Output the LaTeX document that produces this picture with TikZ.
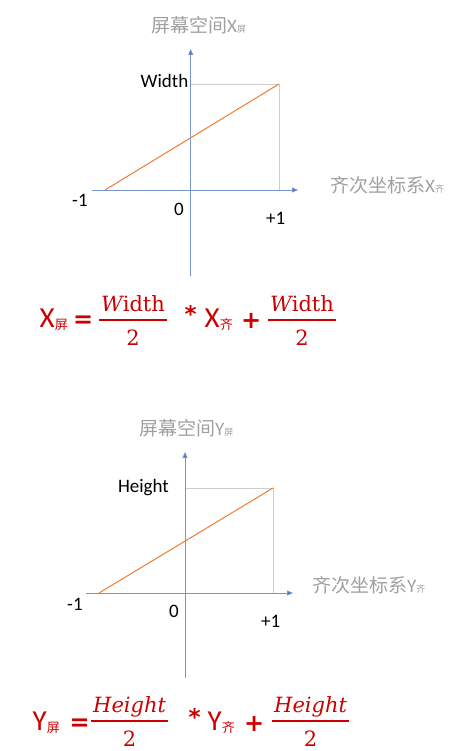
\documentclass[tikz,border=0pt]{standalone}
\usepackage{fontspec}
\setmainfont{Carlito}
\newfontfamily\cjk{Noto Sans CJK SC}
\newfontfamily\eqfont{DejaVu Serif}
\newfontfamily\symfont{DejaVu Sans}
\usetikzlibrary{arrows.meta}

\definecolor{AxisBlue}{RGB}{120,148,205}
\definecolor{TipBlue}{RGB}{68,114,196}
\definecolor{GuideGray}{RGB}{205,205,205}
\definecolor{RampOrange}{RGB}{237,125,49}
\definecolor{TitleGray}{RGB}{160,160,160}
\definecolor{EqRed}{RGB}{204,0,0}

% fraction: numerator over denominator, baseline at the denominator
\newcommand\frc[2]{\setlength\arrayrulewidth{1.6pt}%
  \begin{tabular}[b]{@{\hspace{2pt}}c@{\hspace{2pt}}}#1\\\hline\rule{0pt}{24pt}#2\end{tabular}}
\newcommand\subcjk[1]{\raisebox{-2.5pt}{\cjk\fontsize{13}{13}\selectfont #1}}
\newcommand\tinycjk[1]{{\cjk\fontsize{9}{9}\selectfont #1}}

\begin{document}
\begin{tikzpicture}[x=1pt, y=-1pt,
    every node/.style={inner sep=0pt, font=\fontsize{19}{22}\selectfont},
    axis/.style={AxisBlue, line width=0.8pt, -{Triangle[length=6pt, width=5pt, fill=TipBlue]}},
    guide/.style={GuideGray, line width=0.8pt},
    ramp/.style={RampOrange, line width=1pt},
    title/.style={TitleGray, font=\fontsize{19}{22}\selectfont},
    eq/.style={EqRed, font=\fontsize{29}{32}\selectfont},
    op/.style={EqRed, font=\symfont\bfseries\fontsize{24}{26}\selectfont},
    ast/.style={EqRed, font=\symfont\bfseries\fontsize{23}{24}\selectfont},
    fr/.style={EqRed, font=\eqfont\fontsize{21}{27}\selectfont}
  ]
  \useasboundingbox (0,0) rectangle (474,751);

  % upper panel: screen x
  \coordinate (xl1) at (92,190);
  \coordinate (xr1) at (298,190);
  \coordinate (yb1) at (190.7,276);
  \coordinate (yt1) at (190.7,49);
  \coordinate (top1) at (190.7,84);
  \coordinate (P1) at (279,84);
  \coordinate (Q1) at (279,190);
  \coordinate (S1) at (105,190);
  \draw[guide] (top1) -- (P1) -- (Q1);
  \draw[axis] (xl1) -- (xr1);
  \draw[axis] (yb1) -- (yt1);
  \draw[ramp] (S1) -- (P1);

  \node[title, anchor=base west] (ttl1) at (151,33) {{\cjk 屏幕空间}X\tinycjk{屏}};
  \node[title, anchor=base west] (ndc1) at (330,193) {{\cjk 齐次坐标系}X\tinycjk{齐}};
  \node[anchor=base east] (w1) at (188.5,88) {Width};
  \node[anchor=base west] (m1) at (72,207) {-1};
  \node[anchor=base west] (z1) at (174,215) {0};
  \node[anchor=base west] (p1) at (266,225) {+1};

  % x formula
  \node[eq, anchor=base west] (xs1) at (39.5,327) {X\subcjk{屏}};
  \node[op, anchor=base west] (eq1) at (73,327) {=};
  \node[fr, anchor=base west] (fa1) at (99,345) {\frc{{\itshape W}idth}{2}};
  \node[ast, anchor=base west] (st1) at (184.5,322) {*};
  \node[eq, anchor=base west] (xq1) at (204.5,327) {X\subcjk{齐}};
  \node[op, anchor=base west] (pl1) at (241,328) {+};
  \node[fr, anchor=base west] (fb1) at (268,345) {\frc{{\itshape W}idth}{2}};

  % lower panel: screen y
  \coordinate (xl2) at (86,593);
  \coordinate (xr2) at (293,593);
  \coordinate (yb2) at (185,678);
  \coordinate (yt2) at (185,452);
  \coordinate (top2) at (185,488);
  \coordinate (P2) at (273,488);
  \coordinate (Q2) at (273,593);
  \coordinate (S2) at (99,593);
  \draw[guide] (top2) -- (P2) -- (Q2);
  \draw[axis] (xl2) -- (xr2);
  \draw[axis] (yb2) -- (yt2);
  \draw[ramp] (S2) -- (P2);

  \node[title, anchor=base west] (ttl2) at (139,435) {{\cjk 屏幕空间}Y\tinycjk{屏}};
  \node[title, anchor=base west] (ndc2) at (312,592) {{\cjk 齐次坐标系}Y\tinycjk{齐}};
  \node[anchor=base east] (h2) at (169,492) {Height};
  \node[anchor=base west] (m2) at (67,610) {-1};
  \node[anchor=base west] (z2) at (169,617) {0};
  \node[anchor=base west] (p2) at (261,627) {+1};

  % y formula
  \node[eq, anchor=base west] (ys2) at (32.5,730) {Y\subcjk{屏}};
  \node[op, anchor=base west] (eq2) at (69.5,730) {=};
  \node[fr, anchor=base west] (fa2) at (91,746) {\frc{\itshape Height}{2}};
  \node[ast, anchor=base west] (st2) at (188.5,725) {*};
  \node[eq, anchor=base west] (yq2) at (207.5,730) {Y\subcjk{齐}};
  \node[op, anchor=base west] (pl2) at (244,731) {+};
  \node[fr, anchor=base west] (fb2) at (272,746) {\frc{\itshape Height}{2}};
\end{tikzpicture}
\end{document}
